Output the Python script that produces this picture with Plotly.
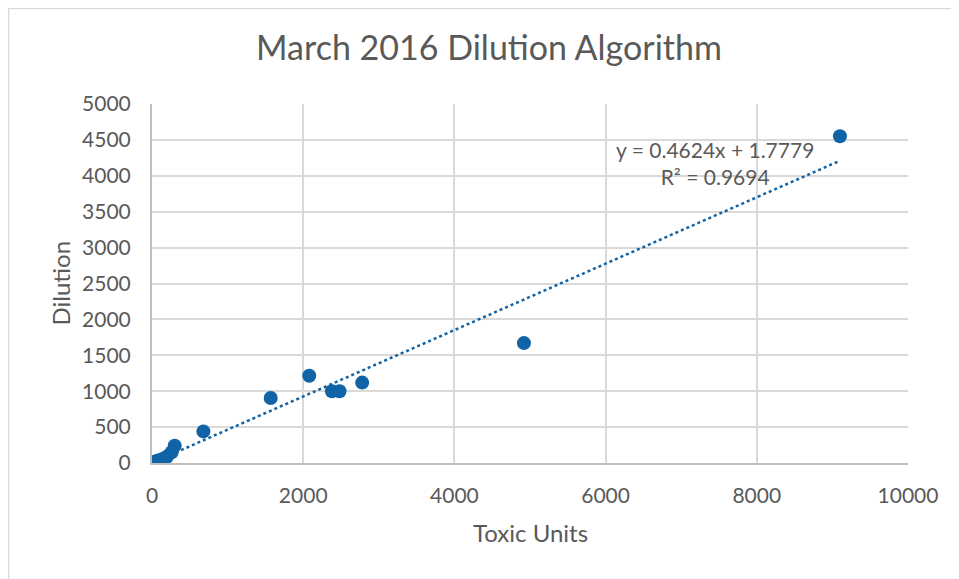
import plotly.graph_objects as go

toxic_units = [20, 45, 80, 140, 200, 260, 300, 680, 1570, 2080, 2380, 2480, 2780, 4920, 9100]
dilution = [10, 20, 35, 55, 90, 150, 240, 440, 905, 1215, 1000, 1000, 1120, 1670, 4550]
trend_slope = 0.4624
trend_intercept = 1.7779
r_squared = 0.9694
x_ticks = [0, 2000, 4000, 6000, 8000, 10000]
x_tick_text = ["0", "2000", "4000", "6000", "8000", "10000"]
y_ticks = [0, 500, 1000, 1500, 2000, 2500, 3000, 3500, 4000, 4500, 5000]

blue = "#0F63A6"
gray_text = "#595959"
font_family = "Lato, 'Open Sans', sans-serif"

x_lo, x_hi = min(toxic_units), max(toxic_units)
trend_x = [x_lo + (x_hi - x_lo) * i / 50 for i in range(51)]
trend_y = [trend_slope * x + trend_intercept for x in trend_x]

fig = go.Figure()
fig.add_trace(go.Scatter(x=trend_x, y=trend_y, mode="lines",
                         line=dict(color=blue, width=2.5, dash="dot"),
                         hoverinfo="skip", showlegend=False))
fig.add_trace(go.Scatter(x=toxic_units, y=dilution, mode="markers",
                         marker=dict(color=blue, size=14), showlegend=False))

fig.add_annotation(x=7450, y=4180, xref="x", yref="y",
                   text=f"y = {trend_slope}x + {trend_intercept}<br>R² = {r_squared}",
                   showarrow=False, font=dict(size=21, color=gray_text, family=font_family),
                   align="center")

# page body has an 8px offset; figure coordinates = screen - 8
L, R, T, B = 144, 59, 96, 124
W, H = 959, 579
pw, ph = W - L - R, H - T - B
fig.add_shape(type="rect", xref="paper", yref="paper",
              x0=(0.5 - L) / pw, x1=(W + 5 - L) / pw,
              y0=-(H + 5 - (T + ph)) / ph, y1=(T + ph - 0.5) / ph,
              line=dict(color="#D9D9D9", width=1.5), layer="below")

# axis titles placed as annotations (pixel offsets from the plot area)
fig.add_annotation(x=0.5, y=0, xref="paper", yref="paper", yanchor="middle",
                   yshift=-(532 - 463), text="Toxic Units", showarrow=False,
                   font=dict(size=24, color=gray_text, family=font_family))
fig.add_annotation(x=0, y=0.5, xref="paper", yref="paper", xanchor="center",
                   xshift=-(152 - 60), text="Dilution", textangle=-90, showarrow=False,
                   font=dict(size=24, color=gray_text, family=font_family))

fig.update_layout(
    width=W, height=H,
    margin=dict(l=L, r=R, t=T, b=B, autoexpand=False),
    paper_bgcolor="white", plot_bgcolor="white",
    title=dict(text="March 2016 Dilution Algorithm", x=481 / W, xref="container", xanchor="center",
               y=(H - 40) / H, yanchor="middle",
               font=dict(size=34, color=gray_text, family=font_family)),
    font=dict(family=font_family, color=gray_text, size=21),
    xaxis=dict(range=[0, 10000], tickvals=x_ticks, ticktext=x_tick_text, showgrid=True,
               gridcolor="#D9D9D9", gridwidth=1.5, automargin=False,
               showline=True, linecolor="#BFBFBF", linewidth=2, zeroline=False,
               ticks="outside", ticklen=13, tickcolor="rgba(0,0,0,0)",
               tickfont=dict(size=21, color=gray_text)),
    yaxis=dict(range=[0, 5000], tickvals=y_ticks, showgrid=True, gridcolor="#D9D9D9", gridwidth=1.5,
               showline=True, linecolor="#BFBFBF", linewidth=2, zeroline=False, automargin=False,
               ticks="outside", ticklen=15, tickcolor="rgba(0,0,0,0)",
               tickfont=dict(size=21, color=gray_text)),
)

fig.write_html("out.html")
